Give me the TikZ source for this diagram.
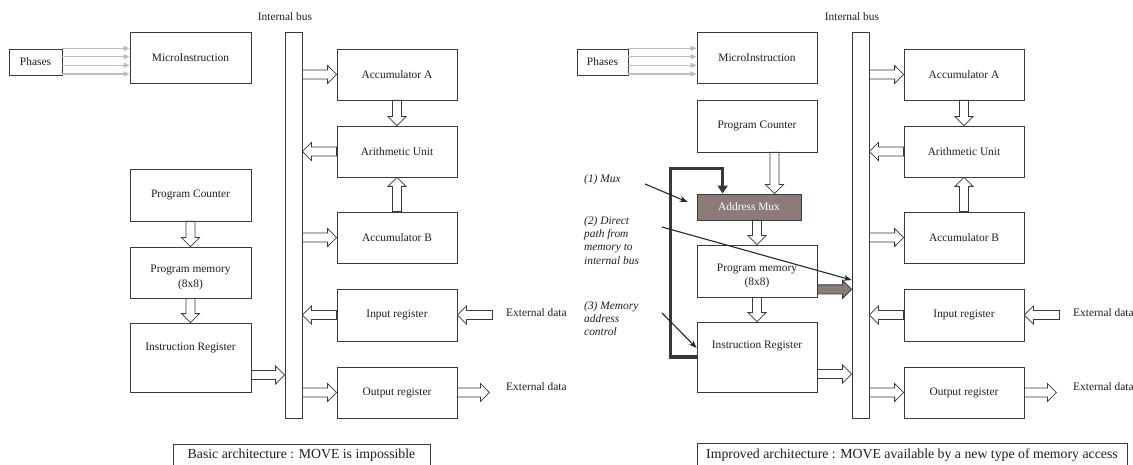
\documentclass[tikz,border=0pt]{standalone}
\usepackage{fontspec}
\setmainfont{Liberation Serif}
\usetikzlibrary{arrows.meta,calc}

\definecolor{edge}{HTML}{3A3A3A}
\definecolor{ink}{HTML}{1E1E1E}
\definecolor{muxfill}{HTML}{8C7B77}
\definecolor{phase}{HTML}{C4BAB6}
\definecolor{routecol}{HTML}{383838}

% hollow block arrow: half shaft width, half head width, head length
\newcommand\bsw{4.5}
\newcommand\bhw{9}
\newcommand\bhl{9}

% \blockarrow[fill]{tail}{tip}
\newcommand\blockarrow[3][white]{%
  \path let \p1=($(#3)-(#2)$) in
    \pgfextra{\pgfmathsetmacro\balen{veclen(\x1,\y1)}%
      \pgfmathsetmacro\baang{atan2(\y1,\x1)}%
      \global\let\Balen\balen\global\let\Baang\baang};
  \draw[blockarrow, fill=#1, shift={(#2)}, rotate=\Baang]
    (0,-\bsw) -- (\Balen-\bhl,-\bsw) -- (\Balen-\bhl,-\bhw) -- (\Balen,0)
    -- (\Balen-\bhl,\bhw) -- (\Balen-\bhl,\bsw) -- (0,\bsw) -- cycle;
}

\begin{document}
\begin{tikzpicture}[x=1pt,y=-1pt,
  font=\rmfamily\fontsize{11.4}{13.4}\selectfont, text=ink,
  box/.style={draw=edge, line width=0.8pt, fill=white, inner sep=0pt,
    minimum width=120pt, minimum height=51pt, align=center},
  blockarrow/.style={draw=edge, line width=0.8pt, line join=miter},
  phasearrow/.style={draw=phase, line width=1.3pt, -{Triangle[length=6pt,width=5pt]}},
  note/.style={font=\rmfamily\fontsize{11.4}{13.4}\selectfont\itshape, align=left, inner sep=0pt},
  pointer/.style={draw=black!85, line width=1.1pt, -{Stealth[length=8pt,width=6pt]}},
  route/.style={draw=routecol, line width=3.2pt, line join=miter,
    -{Triangle[length=8pt,width=10pt]}},
  capbox/.style={draw=edge, line width=0.8pt, inner sep=0pt, anchor=north west},
  captext/.style={font=\rmfamily\fontsize{13.8}{16}\selectfont}
]
\useasboundingbox (0,0) rectangle (1133,465);
\fill[white] (0,0) rectangle (1133,465);

% ---------- bus, data path and I/O (same in both architectures) ----------
\foreach \o/\s in {0/L,567/R}{
  \begin{scope}[xshift=\o pt]
    \node[box, minimum width=17pt, minimum height=386pt] (bus\s) at (293.5,225) {};
    \node (ib\s) at (285,17) {Internal bus};
    \node[box] (acca\s) at (397,74.5) {Accumulator A};
    \node[box] (au\s) at (397,151.5) {Arithmetic Unit};
    \node[box] (accb\s) at (397,237.5) {Accumulator B};
    \node[box, minimum height=52pt] (inr\s) at (397,315) {Input register};
    \node[box] (outr\s) at (397,392.5) {Output register};
    \node[anchor=west, inner sep=0pt] (exi\s) at (506,313) {External data};
    \node[anchor=west, inner sep=0pt] (exo\s) at (506,387) {External data};
  \end{scope}
  \coordinate (xi\s) at ($(inr\s.east)+(35,0)$);
  \coordinate (xo\s) at ($(outr\s.east)+(32,0)$);
  \blockarrow{bus\s.east |- acca\s.west}{acca\s.west}
  \blockarrow{acca\s.south}{au\s.north}
  \blockarrow{au\s.west}{bus\s.east |- au\s.west}
  \blockarrow{accb\s.north}{au\s.south}
  \blockarrow{bus\s.east |- accb\s.west}{accb\s.west}
  \blockarrow{inr\s.west}{bus\s.east |- inr\s.west}
  \blockarrow{xi\s}{inr\s.east}
  \blockarrow{bus\s.east |- outr\s.west}{outr\s.west}
  \blockarrow{outr\s.east}{xo\s}
}

% ---------- basic architecture: control part ----------
\node[box, minimum width=53pt, minimum height=26pt] (phL) at (35.5,62) {Phases};
\node[box, minimum width=121pt] (miL) at (190.5,57.5) {MicroInstruction};
\foreach \yy in {48.3,56.7,65.3,74}
  \draw[phasearrow] (phL.east |- 0,\yy) -- (miL.west |- 0,\yy);
\node[box, minimum width=121pt, minimum height=52pt] (pcL) at (190.5,195) {Program Counter};
\node[box, minimum width=121pt] (pmL) at (190.5,272.5) {};
\node[align=center] (pmLt) at ($(pmL.center)+(0,5)$) {Program memory\\[1.5pt](8x8)};
\node[box, minimum width=121pt, minimum height=69pt] (irL) at (190.5,357.5) {};
\node (irLt) at ($(irL.center)+(0,-9.5)$) {Instruction Register};
\coordinate (irLo) at ($(irL.east)+(0,17.5)$);
\blockarrow{pcL.south}{pmL.north}
\blockarrow{pmL.south}{irL.north}
\blockarrow{irLo}{busL.west |- irLo}

\node[capbox, minimum width=257pt, minimum height=40pt] (capL) at (173,444) {};
\node[captext] (capLt) at (301.5,455) {Basic architecture : MOVE is impossible};

% ---------- improved architecture: control part ----------
\node[box, minimum width=51pt, minimum height=26pt] (phR) at (602.5,62) {Phases};
\node[box] (miR) at (757,57.5) {MicroInstruction};
\foreach \yy in {48.3,56.7,65.3,74}
  \draw[phasearrow] (phR.east |- 0,\yy) -- (miR.west |- 0,\yy);
\node[box, minimum height=52pt] (pcR) at (757,126) {Program Counter};
\node[box, minimum width=104pt, minimum height=26pt, fill=muxfill, text=white] (mux) at (749,207) {Address Mux};
\node[box, minimum height=52pt] (pmR) at (757,271) {};
\node[align=center] (pmRt) at ($(pmR.center)+(0,5)$) {Program memory\\[1.5pt](8x8)};
\node[box, minimum height=70pt] (irR) at (757,357) {};
\node (irRt) at ($(irR.center)+(0,-11)$) {Instruction Register};

\coordinate (pcRo) at ($(pcR.south)+(17.5,0)$);
\coordinate (pmRo) at ($(pmR.south east)+(0,-8)$);
\coordinate (irRo) at ($(irR.east)+(0,17)$);
\blockarrow{pcRo}{mux.north -| pcRo}
\blockarrow{pmR.north |- mux.south}{pmR.north}
\blockarrow{pmR.south}{irR.north}
\blockarrow[muxfill]{pmRo}{busR.west |- pmRo}
\blockarrow{irRo}{busR.west |- irRo}

% memory address control loop from the instruction register to the mux
\coordinate (muxin) at ($(mux.north west)+(26,0)$);
\draw[route] (irR.west) -- ++(-26,0) |- ([yshift=25pt]muxin) -- (muxin);

% annotations
\node[note, anchor=west] (n1) at (584,180) {(1) Mux};
\node[note, anchor=north west] (n2) at (584,216) {(2) Direct\\path from\\memory to\\internal bus};
\node[note, anchor=north west] (n3) at (584,301) {(3) Memory\\address\\control};
\coordinate (n1s) at (645,184);
\coordinate (n2s) at (662,227);
\coordinate (n3s) at (662,313);
\draw[pointer] (n1s) -- ($(mux.west)+(-9,-5)$);
\draw[pointer] (n2s) -- (busR.west |- 0,280);
\draw[pointer] (n3s) -- ($(irR.west)+(0,-9)$);

\node[capbox, minimum width=430pt, minimum height=40pt] (capR) at (697,443) {};
\node[captext] (capRt) at (912,455) {Improved architecture : MOVE available by a new type of memory access};
\end{tikzpicture}
\end{document}
